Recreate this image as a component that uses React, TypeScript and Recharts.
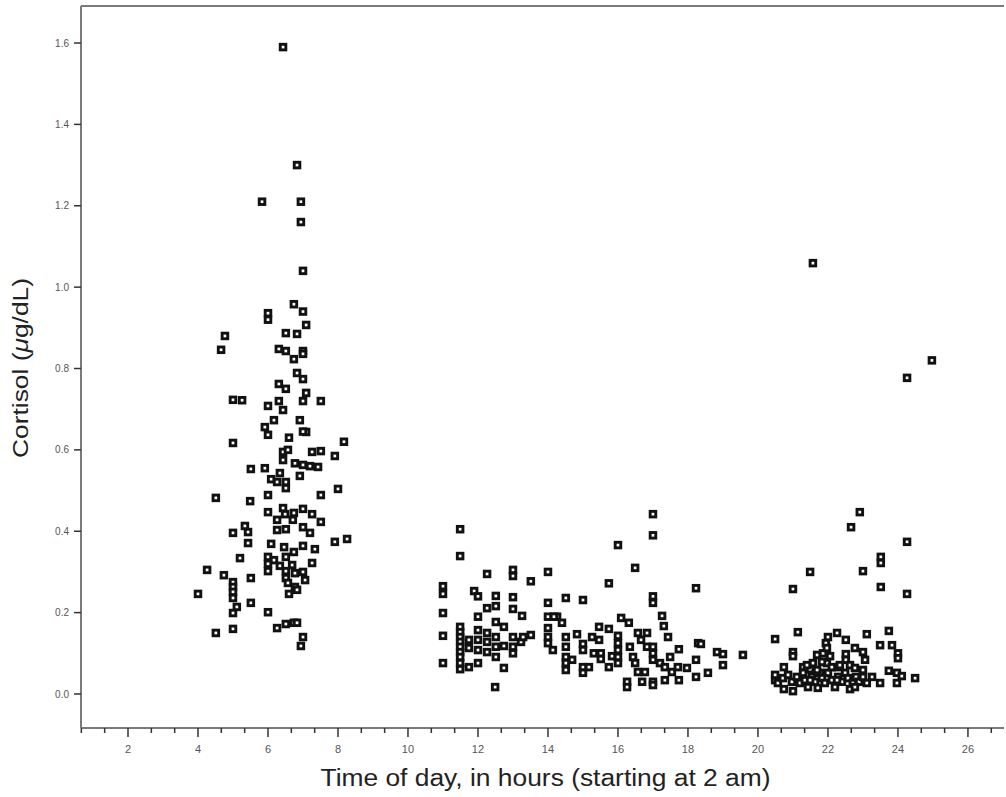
import { Label, ReferenceLine, Scatter, ScatterChart, XAxis, YAxis } from "recharts";

const FONT = '"Liberation Sans", Arial, Helvetica, sans-serif';
const FRAME = "#7a7a7a";

// [hour since 2 am offset, cortisol µg/dL]
const MORNING: [number, number][] = [
  [6.43, 1.59], [6.83, 1.3], [5.83, 1.21], [6.94, 1.21], [6.94, 1.16], [7.0, 1.04],
  [6.74, 0.958], [7.0, 0.94], [6.0, 0.936], [6.0, 0.92], [7.09, 0.907], [4.77, 0.88],
  [6.51, 0.887], [6.83, 0.885], [4.66, 0.846], [6.31, 0.848], [6.51, 0.843], [7.0, 0.843],
  [7.0, 0.836], [6.74, 0.823], [6.83, 0.789], [7.0, 0.774], [6.31, 0.762], [6.51, 0.75],
  [7.09, 0.74], [5.0, 0.723], [5.26, 0.722], [6.31, 0.72], [7.0, 0.72], [7.51, 0.72],
  [6.0, 0.708], [6.43, 0.698], [6.17, 0.673], [6.91, 0.673], [5.91, 0.656], [6.0, 0.637],
  [7.09, 0.644], [7.0, 0.645], [6.6, 0.63], [5.0, 0.617], [8.17, 0.62], [6.43, 0.595],
  [6.57, 0.6], [7.26, 0.595], [7.51, 0.597], [7.91, 0.585], [6.43, 0.575], [6.77, 0.567],
  [7.0, 0.563], [7.2, 0.56], [7.43, 0.558], [5.51, 0.553], [5.91, 0.555], [6.34, 0.543],
  [6.91, 0.536], [6.09, 0.528], [6.26, 0.521], [6.51, 0.521], [6.51, 0.506], [8.0, 0.504],
  [4.51, 0.482], [5.49, 0.474], [6.0, 0.489], [7.51, 0.489], [6.0, 0.447], [6.43, 0.457],
  [6.26, 0.428], [6.49, 0.442], [6.74, 0.445], [6.71, 0.428], [7.0, 0.455], [7.26, 0.442],
  [7.51, 0.423], [7.0, 0.41], [7.2, 0.396], [5.34, 0.413], [5.43, 0.398], [5.0, 0.396],
  [6.26, 0.403], [6.51, 0.405], [6.09, 0.369], [5.43, 0.371], [6.46, 0.361], [6.74, 0.349],
  [7.0, 0.364], [7.34, 0.356], [7.91, 0.374], [8.26, 0.381], [5.2, 0.334], [6.0, 0.337],
  [6.17, 0.329], [6.51, 0.337], [6.0, 0.32], [6.34, 0.315], [6.69, 0.317], [7.26, 0.322],
  [6.0, 0.302], [6.51, 0.302], [6.77, 0.297], [7.0, 0.3], [4.26, 0.305], [4.74, 0.292],
  [5.51, 0.285], [6.51, 0.285], [6.57, 0.273], [5.0, 0.275], [5.0, 0.263], [6.77, 0.263],
  [7.06, 0.28], [5.0, 0.251], [6.83, 0.256], [4.0, 0.246], [6.6, 0.246], [5.0, 0.236],
  [5.51, 0.224], [5.11, 0.214], [5.0, 0.199], [6.0, 0.201], [6.26, 0.162], [6.51, 0.172],
  [6.74, 0.175], [6.83, 0.175], [4.51, 0.15], [5.0, 0.16], [7.0, 0.14], [6.94, 0.118],
];

const MIDDAY: [number, number][] = [
  [11.49, 0.405], [11.49, 0.339], [17.0, 0.442], [17.0, 0.39], [16.0, 0.366], [16.49, 0.31],
  [12.26, 0.295], [13.0, 0.305], [13.0, 0.29], [13.51, 0.277], [14.0, 0.3], [15.74, 0.272],
  [11.0, 0.265], [11.0, 0.246], [11.89, 0.253], [12.0, 0.24], [12.51, 0.241], [13.0, 0.238],
  [14.51, 0.236], [15.0, 0.231], [14.0, 0.224], [17.0, 0.24], [17.0, 0.224], [12.26, 0.211],
  [12.51, 0.216], [13.0, 0.209], [11.0, 0.199], [12.0, 0.19], [13.26, 0.192], [14.0, 0.19],
  [14.26, 0.19], [14.4, 0.175], [17.26, 0.192], [17.31, 0.167], [17.43, 0.14], [17.74, 0.11],
  [18.23, 0.26], [11.49, 0.165], [12.51, 0.177], [12.74, 0.165], [11.0, 0.143], [11.0, 0.076],
  [11.49, 0.152], [11.49, 0.14], [11.49, 0.128], [11.49, 0.116], [11.49, 0.103], [11.49, 0.091],
  [11.49, 0.076], [11.49, 0.061], [11.74, 0.133], [11.74, 0.113], [11.74, 0.066], [12.0, 0.157],
  [12.0, 0.133], [12.0, 0.108], [12.0, 0.076], [12.26, 0.15], [12.26, 0.128], [12.26, 0.103],
  [12.51, 0.14], [12.51, 0.116], [12.51, 0.091], [12.74, 0.064], [12.74, 0.118], [12.49, 0.017],
  [13.0, 0.14], [13.0, 0.116], [13.0, 0.1], [13.23, 0.128], [13.29, 0.14], [13.51, 0.145],
  [14.17, 0.19], [14.0, 0.162], [14.0, 0.14], [14.0, 0.125], [14.14, 0.108], [14.51, 0.14],
  [14.51, 0.116], [14.51, 0.091], [14.51, 0.076], [14.51, 0.059], [14.69, 0.084], [14.83, 0.147],
  [15.0, 0.123], [15.0, 0.108], [15.0, 0.066], [15.0, 0.052], [15.17, 0.066], [15.26, 0.14],
  [15.31, 0.1], [15.46, 0.165], [15.46, 0.133], [15.51, 0.1], [15.51, 0.086], [15.74, 0.16],
  [15.74, 0.066], [15.83, 0.093], [16.0, 0.143], [16.0, 0.125], [16.0, 0.108], [16.0, 0.091],
  [16.0, 0.076], [16.09, 0.187], [16.26, 0.03], [16.26, 0.017], [16.31, 0.175], [16.34, 0.116],
  [16.43, 0.091], [16.49, 0.076], [16.57, 0.15], [16.57, 0.054], [16.66, 0.133], [16.83, 0.15],
  [16.83, 0.116], [16.69, 0.03], [16.77, 0.054], [17.0, 0.116], [17.0, 0.1], [17.0, 0.084],
  [17.0, 0.03], [17.0, 0.022], [17.2, 0.076], [17.34, 0.066], [17.34, 0.034], [17.49, 0.091],
  [17.54, 0.054], [17.71, 0.066], [17.74, 0.034], [17.97, 0.064], [18.23, 0.084], [18.23, 0.042],
  [18.29, 0.125], [18.37, 0.123], [18.83, 0.103], [19.0, 0.098], [19.0, 0.071], [19.57, 0.096],
  [18.57, 0.052],
];

const EVENING: [number, number][] = [
  [21.57, 1.059], [24.26, 0.777], [24.97, 0.82], [22.91, 0.447], [22.66, 0.41], [24.26, 0.374],
  [23.51, 0.337], [23.51, 0.322], [21.49, 0.3], [23.0, 0.302], [21.0, 0.258], [23.51, 0.263],
  [24.26, 0.246], [20.49, 0.135], [21.14, 0.152], [22.26, 0.15], [22.0, 0.14], [21.94, 0.125],
  [22.51, 0.133], [23.11, 0.147], [23.74, 0.155], [23.49, 0.12], [23.83, 0.12], [24.0, 0.1],
  [24.0, 0.088], [21.0, 0.103], [21.0, 0.093], [21.69, 0.096], [22.06, 0.093], [22.51, 0.098],
  [22.51, 0.084], [22.77, 0.113], [23.0, 0.103], [23.06, 0.084], [20.74, 0.066], [21.29, 0.066],
  [21.49, 0.061], [21.77, 0.052], [22.26, 0.066], [23.0, 0.059], [23.74, 0.057], [23.97, 0.052],
  [24.11, 0.044], [24.49, 0.039], [23.26, 0.042], [23.49, 0.027], [23.97, 0.027], [20.49, 0.034],
  [20.49, 0.047], [20.57, 0.027], [20.71, 0.039], [20.74, 0.012], [20.86, 0.047], [20.97, 0.03],
  [21.0, 0.007], [21.11, 0.042], [21.2, 0.027], [21.29, 0.052], [21.34, 0.034], [21.43, 0.017],
  [21.54, 0.042], [21.63, 0.03], [21.69, 0.059], [21.71, 0.015], [21.83, 0.039], [21.91, 0.027],
  [22.0, 0.052], [22.11, 0.034], [22.2, 0.017], [22.29, 0.042], [22.4, 0.03], [22.49, 0.052],
  [22.57, 0.039], [22.63, 0.012], [22.71, 0.027], [22.8, 0.042], [22.89, 0.03], [23.0, 0.042],
  [23.11, 0.027], [21.97, 0.076], [21.83, 0.079], [22.11, 0.066], [22.34, 0.071], [21.57, 0.076],
  [21.4, 0.071], [22.63, 0.071], [22.77, 0.064], [21.86, 0.1], [21.97, 0.113], [21.49, 0.034],
  [22.26, 0.034], [22.77, 0.017],
];

const X_DOMAIN: [number, number] = [0.657, 27.03];
const Y_DOMAIN: [number, number] = [-0.0836, 1.691];
const X_MAJOR = [2, 4, 6, 8, 10, 12, 14, 16, 18, 20, 22, 24, 26];
// minor ticks every 40 minutes (three per 2-hour label)
const X_TICKS = Array.from({ length: 40 }, (_, i) => ((i + 1) * 2) / 3);
const Y_TICKS = [0, 0.2, 0.4, 0.6, 0.8, 1.0, 1.2, 1.4, 1.6];

const toPoints = (rows: [number, number][]) => rows.map(([x, y]) => ({ x, y }));

type Box = { x: number; y: number; width: number; height: number };

/** Hollow square marker, thick black outline. */
function SquareDot({ cx, cy }: { cx?: number; cy?: number }) {
  if (cx == null || cy == null) return null;
  return (
    <rect x={cx - 2.8} y={cy - 2.8} width={5.6} height={5.6} fill="#fff" stroke="#111" strokeWidth={2.9} />
  );
}

/** Ticks drawn by hand: long ones with labels on even hours, short ones between. */
function XTick({ x, y, payload }: { x?: number; y?: number; payload?: { value: number } }) {
  if (x == null || y == null || !payload) return null;
  const r = Math.round(payload.value);
  const major = Math.abs(payload.value - r) < 0.01 && X_MAJOR.includes(r);
  return (
    <g>
      <line x1={x} x2={x} y1={y} y2={y + (major ? 9 : 5)} stroke="#333" strokeWidth={1.5} />
      {major && (
        <text x={x} y={y + 25} textAnchor="middle" fontSize={11} fill="#555" fontFamily={FONT}>
          {r}
        </text>
      )}
    </g>
  );
}

// The source figure's text is horizontally stretched, hence textLength.
function XTitle({ viewBox }: { viewBox?: Box }) {
  if (!viewBox) return null;
  return (
    <text
      x={viewBox.x + viewBox.width / 2 + 3}
      y={786}
      textAnchor="middle"
      fontSize={23}
      fill="#222"
      fontFamily={FONT}
      textLength={450}
      lengthAdjust="spacingAndGlyphs"
    >
      Time of day, in hours (starting at 2 am)
    </text>
  );
}

function YTitle({ viewBox }: { viewBox?: Box }) {
  if (!viewBox) return null;
  const cy = viewBox.y + viewBox.height / 2;
  return (
    <text
      transform={`translate(22,${cy + 1}) rotate(-90)`}
      textAnchor="middle"
      dominantBaseline="middle"
      fontSize={22}
      fill="#222"
      fontFamily={FONT}
      textLength={180}
      lengthAdjust="spacingAndGlyphs"
    >
      Cortisol (<tspan fontStyle="italic">μ</tspan>g/dL)
    </text>
  );
}

export default function App() {
  return (
    <div style={{ position: "absolute", left: 0, top: 0, background: "#fff" }}>
      <ScatterChart width={1006} height={797} margin={{ top: 6, right: 2, bottom: 0, left: 0 }}>
        <XAxis
          type="number"
          dataKey="x"
          domain={X_DOMAIN}
          ticks={X_TICKS}
          interval={0}
          allowDataOverflow
          height={69}
          tickSize={0}
          tickMargin={0}
          tick={<XTick />}
          axisLine={{ stroke: FRAME, strokeWidth: 2 }}
        >
          <Label content={<XTitle />} />
        </XAxis>
        <YAxis
          type="number"
          dataKey="y"
          domain={Y_DOMAIN}
          ticks={Y_TICKS}
          interval={0}
          allowDataOverflow
          width={81}
          tickSize={7}
          tickMargin={5}
          tickFormatter={(v: number) => v.toFixed(1)}
          tick={{ fontSize: 10, fill: "#555", fontFamily: FONT }}
          tickLine={{ stroke: "#333", strokeWidth: 1.5 }}
          axisLine={{ stroke: FRAME, strokeWidth: 2 }}
        >
          <Label content={<YTitle />} />
        </YAxis>
        <ReferenceLine y={Y_DOMAIN[1]} stroke={FRAME} strokeWidth={2} />
        <Scatter data={toPoints(MORNING)} shape={<SquareDot />} isAnimationActive={false} />
        <Scatter data={toPoints(MIDDAY)} shape={<SquareDot />} isAnimationActive={false} />
        <Scatter data={toPoints(EVENING)} shape={<SquareDot />} isAnimationActive={false} />
      </ScatterChart>
    </div>
  );
}
